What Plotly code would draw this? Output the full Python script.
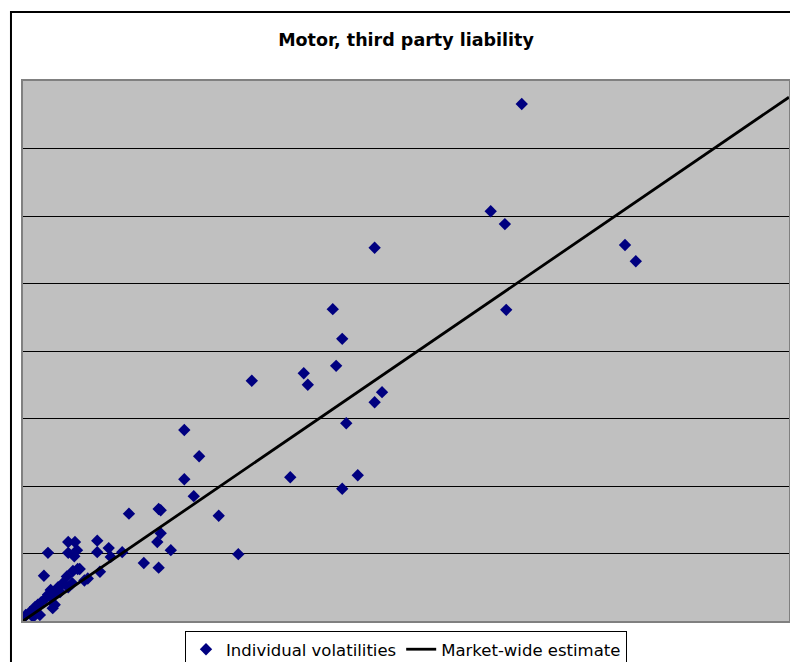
import plotly.graph_objects as go

# Individual volatilities (arbitrary units: 10 units per gridline)
vol_x = [73.9, 69.3, 71.4, 52.1, 89.2, 90.8, 45.9, 71.6, 47.3, 33.9,
         41.6, 46.4, 42.2, 53.2, 52.1, 47.9, 23.9, 26.1, 23.9, 39.6,
         49.6, 47.3, 25.3, 29.0, 15.7, 20.1, 20.4, 20.4, 19.9, 21.9,
         31.9, 17.9, 20.1,
         6.7, 7.7, 11.0, 3.7, 6.7, 8.0, 7.6, 11.0, 12.7, 14.7,
         13.0, 3.1, 6.5, 8.1, 7.4, 11.4, 9.6, 9.1, 4.1, 5.9,
         5.2, 6.7, 7.3, 4.7, 3.4, 2.7, 3.7, 1.8, 1.0, 0.4,
         0.0, 2.5, 4.4, 2.2, 4.1, 1.5, 4.9, 5.5, 8.4]
vol_y = [76.6, 60.7, 58.8, 55.3, 55.7, 53.3, 46.2, 46.1, 41.8, 35.6,
         36.7, 37.8, 35.0, 33.9, 32.4, 29.3, 28.3, 24.4, 21.0, 21.3,
         21.6, 19.6, 18.5, 15.6, 15.9, 16.6, 16.4, 13.0, 11.7, 10.5,
         9.9, 8.6, 7.9,
         11.7, 11.7, 11.9, 10.1, 10.1, 10.5, 9.6, 10.2, 10.8, 10.2,
         9.5, 6.7, 6.6, 7.7, 7.4, 7.3, 6.3, 6.0, 4.6, 5.6,
         5.0, 5.0, 5.6, 2.4, 3.4, 2.8, 3.9, 2.1, 1.3, 0.9,
         0.4, 0.9, 1.9, 2.4, 3.6, 0.6, 4.1, 4.3, 7.7]

# Market-wide estimate (straight line through origin)
line_x = [0.0, 113.5]
line_y = [0.0, 77.6]

title_text = "Motor, third party liability"
series_names = ["Individual volatilities", "Market-wide estimate"]

W, H = 790, 662

fig = go.Figure()
fig.add_trace(go.Scatter(
    x=vol_x, y=vol_y, mode="markers", name=series_names[0],
    marker=dict(symbol="diamond", size=9.5, color="#000080",
                line=dict(width=0)),
))
fig.add_trace(go.Scatter(
    x=line_x, y=line_y, mode="lines", name=series_names[1],
    line=dict(color="#000000", width=2.8),
))

# outer chart border (cut off on right and bottom)
fig.add_shape(type="rect", xref="paper", yref="paper",
              x0=-0.0157, x1=1.05, y0=-0.2, y1=1.128,
              line=dict(color="#000000", width=2), layer="below")

fig.update_layout(
    width=W, height=H,
    margin=dict(l=23, r=1, t=81, b=41, autoexpand=False),
    paper_bgcolor="#FFFFFF",
    plot_bgcolor="#C0C0C0",
    title=dict(text="<b>" + title_text + "</b>", x=406 / W, xanchor="center",
               y=1 - 40 / H, yanchor="middle",
               font=dict(family="DejaVu Sans", size=17.5, color="#000000")),
    showlegend=True,
    legend=dict(orientation="h", x=0.5, xanchor="center", y=-0.0185, yanchor="top",
                bgcolor="#FFFFFF", bordercolor="#000000", borderwidth=1,
                font=dict(family="DejaVu Sans, Verdana", size=16.5, color="#000000"),
                tracegroupgap=0),
    xaxis=dict(range=[0, 113.5], showgrid=False, zeroline=False,
               showticklabels=False, ticks="",
               showline=True, mirror=True, linecolor="#808080", linewidth=2),
    yaxis=dict(range=[0, 80], dtick=10, showgrid=True, gridcolor="#000000",
               gridwidth=1, zeroline=False, showticklabels=False, ticks="",
               showline=True, mirror=True, linecolor="#808080", linewidth=2),
)

fig.write_html("out.html",
               config={"displayModeBar": False},
               post_script="document.body.style.margin='0';"
                           "document.documentElement.style.overflow='hidden';")
